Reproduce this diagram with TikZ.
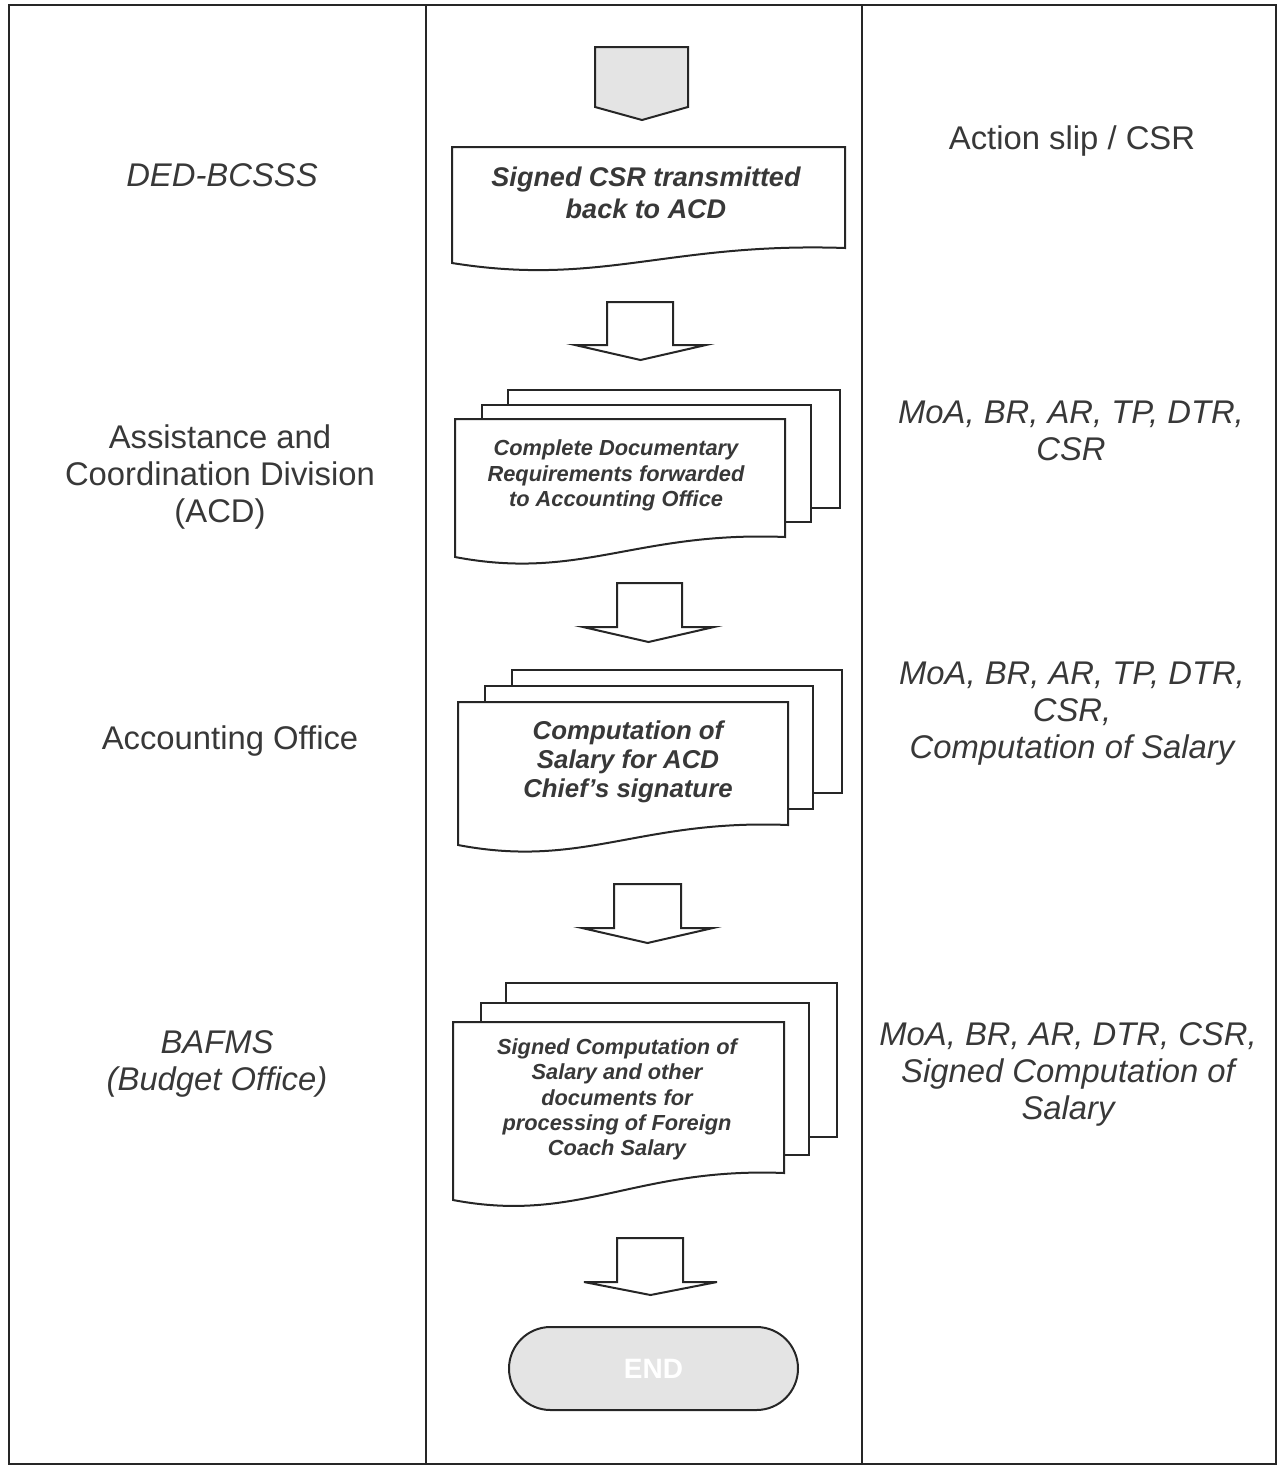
\documentclass[tikz,border=0pt]{standalone}
\usepackage{fontspec}
\setmainfont{Liberation Sans}
\usetikzlibrary{calc}

\definecolor{ink}{HTML}{383838}
\definecolor{shade}{HTML}{E4E4E4}

\tikzset{
  frameline/.style={draw=black!85, line width=1pt},
  sheet/.style={draw=black!85, fill=white, line width=1pt, line join=miter},
  blockarrow/.style={draw=black!85, fill=white, line width=1pt, line join=miter},
  connector/.style={draw=black!85, fill=shade, line width=1pt},
  terminator/.style={draw=black!85, fill=shade, line width=1pt,
    minimum width=144.5pt, minimum height=41.5pt, rounded corners=20.75pt,
    text=white, font=\fontsize{14}{16}\selectfont\bfseries},
  lanelabel/.style={text=ink, align=center, font=\fontsize{16.4}{18.6}\selectfont},
  lanelabelit/.style={lanelabel, font=\fontsize{16.4}{18.6}\selectfont\itshape},
  doclabel/.style={text=ink, align=center, font=\bfseries\itshape},
}

% document sheet with a wavy lower edge: left, top, right, right-bottom, left-bottom
\newcommand{\docsheet}[5]{%
  \draw[sheet] (#1,#2) -- (#3,#2) -- (#3,#4)
    .. controls ({#1+0.55*(#3-#1)},{#4-6}) and ({#1+0.38*(#3-#1)},{#5+24}) .. (#1,#5) -- cycle;}
% hollow block arrow pointing down: shaft left, shaft right, top, shoulder, head left, head right, tip
\newcommand{\downarrowblock}[7]{%
  \draw[blockarrow] (#1,#3) -- (#2,#3) -- (#2,#4) -- (#6,#4) -- ({(#5+#6)/2},#7)
    -- (#5,#4) -- (#1,#4) -- cycle;}

\begin{document}
\begin{tikzpicture}[x=0.5pt, y=-0.5pt]
  \useasboundingbox (0,0) rectangle (1287,1467);

  % swimlane frame
  \draw[frameline] (9,5) rectangle (1276,1464);
  \draw[frameline] (426,5) -- (426,1464);
  \draw[frameline] (862,5) -- (862,1464);

  % off-page connector at the top
  \draw[connector] (595,47) -- (688,47) -- (688,107) -- (642,120) -- (595,107) -- cycle;
  \coordinate (start) at (642,83);

  % first document
  \docsheet{452}{147}{845}{248}{263}
  \node[doclabel, font=\fontsize{13.5}{16}\selectfont\bfseries\itshape] (doc1) at (646,193)
    {Signed CSR transmitted\\back to ACD};

  \downarrowblock{607}{673}{302}{345}{575}{706}{360}

  % second step: stacked documents
  \draw[sheet] (508,390) rectangle (840,508);
  \draw[sheet] (482,405) rectangle (811,522);
  \docsheet{455}{419}{785}{537}{557}
  \node[doclabel, font=\fontsize{10.9}{12.8}\selectfont\bfseries\itshape] (doc2) at (616,475.5)
    {Complete Documentary\\Requirements forwarded\\to Accounting Office};

  \downarrowblock{617}{682}{583}{627}{583}{714}{642}

  % third step: stacked documents
  \draw[sheet] (512,670) rectangle (842,793);
  \draw[sheet] (485,686) rectangle (813,809);
  \docsheet{458}{702}{788}{825}{845}
  \node[doclabel, font=\fontsize{12.9}{14.5}\selectfont\bfseries\itshape] (doc3) at (628,762)
    {Computation of\\Salary for ACD\\Chief's signature};

  \downarrowblock{614}{681}{884}{928}{582}{713}{943}

  % fourth step: stacked documents
  \draw[sheet] (506,983) rectangle (837,1137);
  \draw[sheet] (481,1003) rectangle (809,1155);
  \docsheet{453}{1022}{784}{1173}{1200}
  \node[doclabel, font=\fontsize{10.9}{12.6}\selectfont\bfseries\itshape] (doc4) at (617,1099.5)
    {Signed Computation of\\Salary and other\\documents for\\processing of Foreign\\Coach Salary};

  \downarrowblock{617}{683}{1238}{1282}{584}{717}{1295}

  % terminator
  \node[terminator] (endnode) at (653.5,1368.5) {END};

  % lane labels (left)
  \node[lanelabelit] (l1) at (222,175) {DED-BCSSS};
  \node[lanelabel] (l2) at (220,477) {Assistance and\\Coordination Division\\(ACD)};
  \node[lanelabel] (l3) at (230,741) {Accounting Office};
  \node[lanelabelit] (l4) at (217,1064) {BAFMS\\(Budget Office)};

  % attached documents (right)
  \node[lanelabel] (r1) at (1072,141) {Action slip / CSR};
  \node[lanelabelit] (r2) at (1071,430.5) {MoA, BR, AR, TP, DTR,\\CSR};
  \node[lanelabelit] (r3) at (1072,713.5) {MoA, BR, AR, TP, DTR,\\CSR,\\Computation of Salary};
  \node[lanelabelit] (r4) at (1068,1074.5) {MoA, BR, AR, DTR, CSR,\\Signed Computation of\\Salary};
\end{tikzpicture}
\end{document}
